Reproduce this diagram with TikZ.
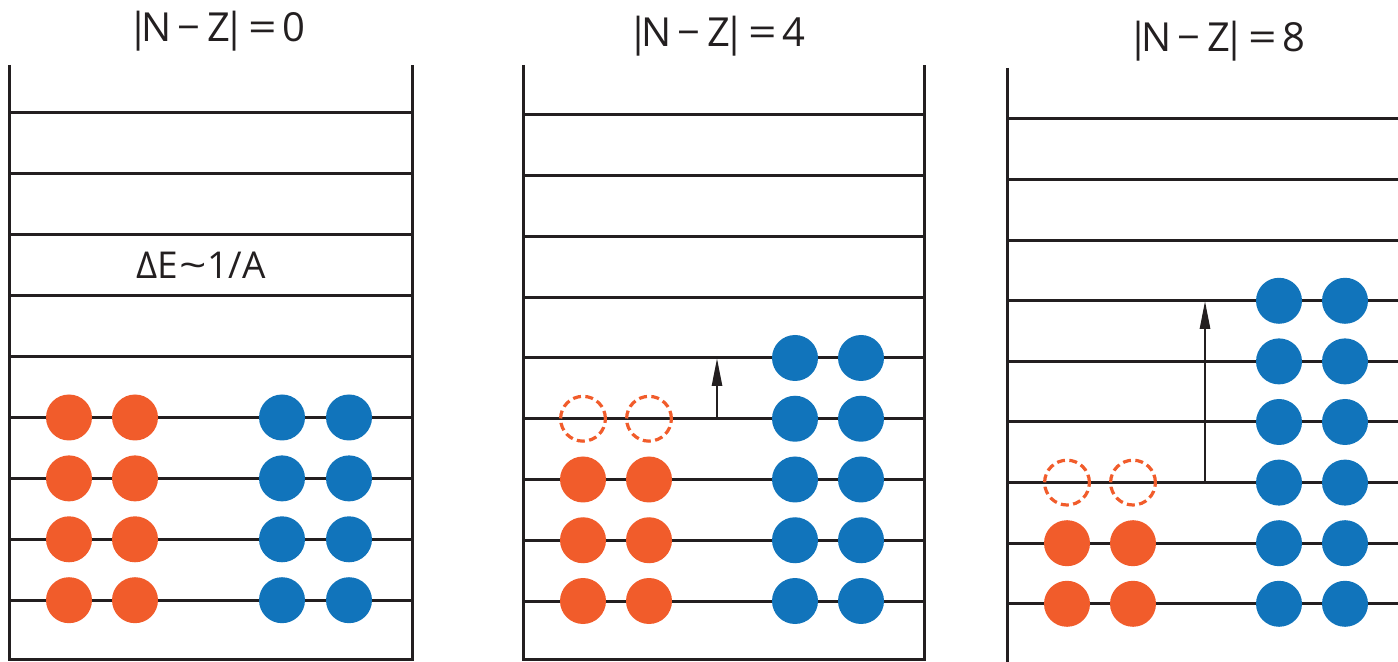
\documentclass[tikz,border=0pt]{standalone}
\usepackage{fontspec}
\setmainfont{Open Sans}
\usetikzlibrary{arrows.meta}
\definecolor{proton}{RGB}{241,92,43}
\definecolor{neutron}{RGB}{17,116,187}
\definecolor{ink}{RGB}{35,31,32}

% |N - Z| = n, with tight bars and a wide equals sign
\newcommand{\asymlabel}[1]{%
  |\kern-4.2pt N\kern3.3pt−\kern3.3pt Z\kern-3.5pt|\kern1.6pt\scalebox{1.25}[1]{=}\kern3pt #1}

\begin{document}
\begin{tikzpicture}[x=0.5pt,y=-0.5pt,
  wall/.style={draw=ink,line width=1.5pt,line join=miter},
  level/.style={draw=ink,line width=1.5pt},
  pfull/.style={circle,fill=proton,minimum size=23pt,inner sep=0pt},
  nfull/.style={circle,fill=neutron,minimum size=23pt,inner sep=0pt},
  hole/.style={circle,draw=proton,line width=1.6pt,dash pattern=on 4pt off 2.2pt,minimum size=22.4pt,inner sep=0pt},
  title/.style={font=\fontsize{20}{24}\selectfont,text=ink,inner sep=0pt,anchor=base west},
  jump/.style={draw=ink,line width=1.3pt,-{Triangle[length=14pt,width=5pt]}}]

\useasboundingbox (0,0) rectangle (1398,662);

% ---------- |N - Z| = 0 ----------
\node[title] (t1) at (127,42) {\asymlabel{0}};
\draw[wall] (9,65) -- (9,659) -- (412,659) -- (412,65);
\foreach \k in {0,...,8}
  \draw[level] (9,{113+60.9*\k}) -- (412,{113+60.9*\k});
\node[font=\fontsize{18.5}{22}\selectfont,text=ink,inner sep=0pt,anchor=base] (de) at (201,279)
  {ΔE\kern0.5pt\scalebox{1.3}[1]{\char"007E}\kern0.5pt1/A};
\foreach \k in {5,...,8}{
  \node[pfull] (p1-\k-a) at (69,{113+60.9*\k}) {};
  \node[pfull] (p1-\k-b) at (135,{113+60.9*\k}) {};
  \node[nfull] (n1-\k-a) at (282,{113+60.9*\k}) {};
  \node[nfull] (n1-\k-b) at (349,{113+60.9*\k}) {};
}

% ---------- |N - Z| = 4 ----------
\node[title] (t2) at (627,47) {\asymlabel{4}};
\draw[wall] (523,65) -- (523,659) -- (924,659) -- (924,65);
\foreach \k in {0,...,8}
  \draw[level] (523,{115+60.75*\k}) -- (924,{115+60.75*\k});
\node[hole] (h2-a) at (583,{115+60.75*5}) {};
\node[hole] (h2-b) at (649,{115+60.75*5}) {};
\foreach \k in {6,...,8}{
  \node[pfull] (p2-\k-a) at (583,{115+60.75*\k}) {};
  \node[pfull] (p2-\k-b) at (649,{115+60.75*\k}) {};
}
\foreach \k in {4,...,8}{
  \node[nfull] (n2-\k-a) at (795,{115+60.75*\k}) {};
  \node[nfull] (n2-\k-b) at (861,{115+60.75*\k}) {};
}
\coordinate (j2s) at (717,{115+60.75*5});
\coordinate (j2e) at (717,{115+60.75*4});
\draw[jump] (j2s) -- (j2e);

% ---------- |N - Z| = 8 ----------
\node[title] (t3) at (1127,52) {\asymlabel{8}};
\draw[wall] (1007,68) -- (1007,662);
\foreach \k in {0,...,8}
  \draw[level] (1007,{119+60.6*\k}) -- (1398,{119+60.6*\k});
\node[hole] (h3-a) at (1067,{119+60.6*6}) {};
\node[hole] (h3-b) at (1133,{119+60.6*6}) {};
\foreach \k in {7,8}{
  \node[pfull] (p3-\k-a) at (1067,{119+60.6*\k}) {};
  \node[pfull] (p3-\k-b) at (1133,{119+60.6*\k}) {};
}
\foreach \k in {3,...,8}{
  \node[nfull] (n3-\k-a) at (1279,{119+60.6*\k}) {};
  \node[nfull] (n3-\k-b) at (1345,{119+60.6*\k}) {};
}
\coordinate (j3s) at (1205,{119+60.6*6});
\coordinate (j3e) at (1205,{119+60.6*3});
\draw[jump] (j3s) -- (j3e);
\end{tikzpicture}
\end{document}
